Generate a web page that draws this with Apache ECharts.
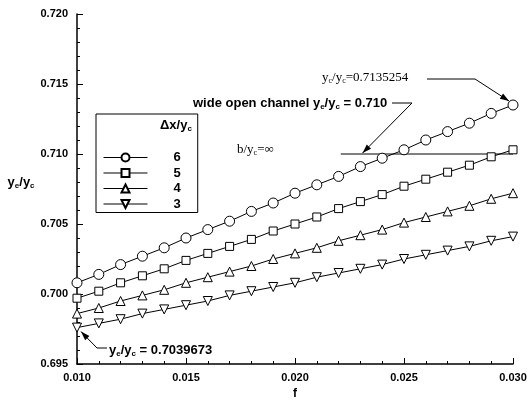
<!DOCTYPE html>
<html lang="en">
  <head>
    <meta charset="UTF-8" />
    <script src="https://cdnjs.cloudflare.com/ajax/libs/echarts/6.0.0/echarts.min.js"></script>
    <title>ye/yc vs f</title>
  </head>
  <body style="margin: 0">
    <div id="main" style="width: 527px; height: 400px"></div>
    <script>
      // friction factor f, 0.010 .. 0.030
      var fValues = [0.010, 0.011, 0.012, 0.013, 0.014, 0.015, 0.016, 0.017, 0.018, 0.019, 0.020,
                     0.021, 0.022, 0.023, 0.024, 0.025, 0.026, 0.027, 0.028, 0.029, 0.030];
      var dx6 = [0.7008, 0.7014, 0.7021, 0.7027, 0.7033, 0.7040, 0.7046, 0.7052, 0.7059, 0.7065, 0.7072,
                 0.7078, 0.7084, 0.7091, 0.7097, 0.7103, 0.7110, 0.7116, 0.7122, 0.7129, 0.7135];
      var dx5 = [0.6997, 0.7002, 0.7008, 0.7013, 0.7018, 0.7024, 0.7029, 0.7034, 0.7039, 0.7045, 0.7050,
                 0.7055, 0.7061, 0.7066, 0.7071, 0.7077, 0.7082, 0.7087, 0.7092, 0.7098, 0.7103];
      var dx4 = [0.6986, 0.6990, 0.6995, 0.6999, 0.7003, 0.7008, 0.7012, 0.7016, 0.7020, 0.7025, 0.7029,
                 0.7033, 0.7038, 0.7042, 0.7046, 0.7051, 0.7055, 0.7059, 0.7063, 0.7068, 0.7072];
      var dx3 = [0.6976, 0.6979, 0.6982, 0.6986, 0.6989, 0.6992, 0.6995, 0.6999, 0.7002, 0.7005, 0.7008,
                 0.7012, 0.7015, 0.7018, 0.7021, 0.7025, 0.7028, 0.7031, 0.7034, 0.7038, 0.7041];
      var wideChannelF = [0.0221, 0.030];
      var wideChannelY = 0.710;

      var chartDom = document.getElementById("main");
      var myChart = echarts.init(chartDom);

      function pairs(ys) {
        return fValues.map(function (f, i) { return [f, ys[i]]; });
      }

      function curve(name, ys, symbol, size, rotate) {
        return {
          type: "line",
          name: name,
          data: pairs(ys),
          symbol: symbol,
          symbolSize: size,
          symbolRotate: rotate || 0,
          showAllSymbol: true,
          lineStyle: { color: "#000", width: 1 },
          itemStyle: { color: "#fff", borderColor: "#000", borderWidth: 1 },
          emphasis: { disabled: true },
          z: 3,
        };
      }

      var sub = {
        b: { fontFamily: "Liberation Sans", fontWeight: "bold", fontSize: 13, color: "#000" },
        s: { fontFamily: "Liberation Sans", fontWeight: "bold", fontSize: 8, color: "#000", padding: [7, 0, 0, 0] },
        t: { fontFamily: "Liberation Serif", fontSize: 13, color: "#000" },
        ts: { fontFamily: "Liberation Serif", fontSize: 8, color: "#000", padding: [6, 0, 0, 0] },
      };

      var option = {
        animation: false,
        grid: { left: 77, right: 14, top: 14, bottom: 36, containLabel: false, outerBoundsMode: "none" },
        xAxis: {
          type: "value",
          min: 0.010,
          max: 0.030,
          interval: 0.005,
          name: "f",
          nameLocation: "middle",
          nameGap: 22,
          nameTextStyle: { fontFamily: "Liberation Sans", fontWeight: "bold", fontSize: 12, color: "#000" },
          axisLine: { lineStyle: { color: "#000", width: 1.5 } },
          axisTick: { inside: true, length: 6, lineStyle: { color: "#000" } },
          minorTick: { show: true, splitNumber: 5, length: 3, lineStyle: { color: "#000" } },
          splitLine: { show: false },
          axisLabel: {
            margin: 8,
            fontFamily: "Liberation Sans",
            fontWeight: "bold",
            fontSize: 11,
            color: "#000",
            formatter: function (v) { return v.toFixed(3); },
          },
        },
        yAxis: {
          type: "value",
          min: 0.695,
          max: 0.720,
          interval: 0.005,
          name: "{b|y}{s|e}{b|/y}{s|c}",
          nameLocation: "middle",
          nameRotate: 0,
          nameGap: 35,
          nameTextStyle: { rich: sub, padding: [0, 0, 14, 0] },
          axisLine: { show: true, lineStyle: { color: "#000", width: 1.5 } },
          axisTick: { inside: true, length: 6, lineStyle: { color: "#000" } },
          minorTick: { show: true, splitNumber: 5, length: 3, lineStyle: { color: "#000" } },
          splitLine: { show: false },
          axisLabel: {
            margin: 9,
            fontFamily: "Liberation Sans",
            fontWeight: "bold",
            fontSize: 11,
            color: "#000",
            formatter: function (v) { return v.toFixed(3); },
          },
        },
        legend: {
          orient: "vertical",
          left: 96,
          top: 114,
          padding: [37, 17, 2, 7],
          itemWidth: 44,
          itemHeight: 10,
          itemGap: 2.5,
          borderColor: "#000",
          borderWidth: 1,
          backgroundColor: "#fff",
          data: ["6", "5", "4", "3"],
          lineStyle: { width: 1 },
          textStyle: {
            fontFamily: "Liberation Sans",
            fontWeight: "bold",
            fontSize: 13,
            color: "#000",
            padding: [0, 0, 0, 21],
            lineHeight: 10,
          },
          selectedMode: false,
        },
        series: [
          curve("6", dx6, "circle", 10),
          curve("5", dx5, "rect", 8),
          curve("4", dx4, "triangle", 9),
          curve("3", dx3, "triangle", 9, 180),
          {
            type: "line",
            name: "wide",
            data: wideChannelF.map(function (f) { return [f, wideChannelY]; }),
            symbol: "none",
            lineStyle: { color: "#000", width: 1 },
            z: 2,
          },
        ],
      };
      myChart.setOption(option);

      function px(f, y) {
        return myChart.convertToPixel({ gridIndex: 0 }, [f, y]);
      }

      function arrow(points) {
        var n = points.length;
        var tip = points[n - 1];
        var prev = points[n - 2];
        var a = Math.atan2(tip[1] - prev[1], tip[0] - prev[0]);
        var len = 9, w = 3;
        var bx = tip[0] - len * Math.cos(a), by = tip[1] - len * Math.sin(a);
        return [
          { type: "polyline", shape: { points: points }, style: { stroke: "#000", lineWidth: 1, fill: null }, z: 10 },
          {
            type: "polygon",
            shape: {
              points: [
                tip,
                [bx + w * Math.sin(a), by - w * Math.cos(a)],
                [bx - w * Math.sin(a), by + w * Math.cos(a)],
              ],
            },
            style: { fill: "#000" },
            z: 10,
          },
        ];
      }

      var last6 = px(fValues[20], dx6[20]);
      var wideTip = px(0.0231, wideChannelY);
      var first3 = px(fValues[0], dx3[0]);

      var graphics = [
        {
          type: "text",
          x: 160,
          y: 118,
          style: { text: "{b|Δx/y}{s|c}", rich: sub },
          z: 11,
        },
        {
          type: "text",
          x: 322,
          y: 71,
          style: { text: "{t|y}{ts|c}{t|/y}{ts|c}{t|=0.7135254}", rich: sub },
          z: 11,
        },
        {
          type: "text",
          x: 193,
          y: 96,
          style: { text: "{b|wide open channel y}{s|e}{b|/y}{s|c}{b| = 0.710}", rich: sub },
          z: 11,
        },
        {
          type: "text",
          x: 237,
          y: 143,
          style: { text: "{t|b/y}{ts|c}{t|=∞}", rich: sub },
          z: 11,
        },
        {
          type: "text",
          x: 109,
          y: 343,
          style: { text: "{b|y}{s|e}{b|/y}{s|c}{b| = 0.7039673}", rich: sub },
          z: 11,
        },
      ];
      graphics = graphics
        .concat(arrow([[427, 79], [475, 79], [last6[0] - 4, last6[1] - 4]]))
        .concat(arrow([[107, 348], [97, 348], [first3[0] + 4, first3[1] + 4]]))
        .concat(arrow([[392, 103], [412, 103], [wideTip[0], wideTip[1] - 1]]));

      myChart.setOption({ graphic: graphics });
    </script>
  </body>
</html>
